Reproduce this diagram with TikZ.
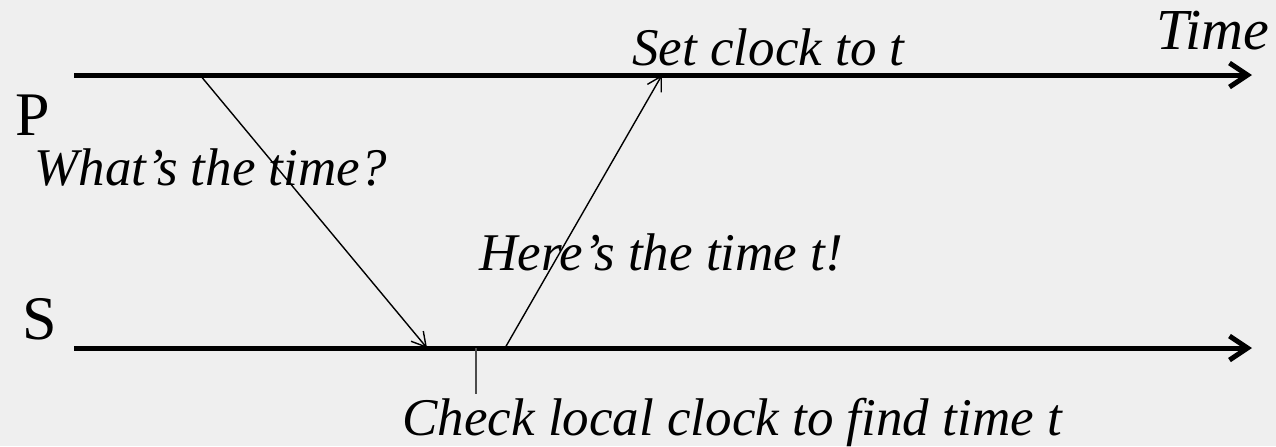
\documentclass[tikz,border=0pt]{standalone}
\usepackage{fontspec}
\setmainfont{Liberation Serif}
\usetikzlibrary{arrows.meta,positioning}
\definecolor{bg}{HTML}{EFEFEF}
\tikzset{
  timeline/.style={line width=2.5pt,-{Straight Barb[length=9pt,width=12pt,line width=2.5pt]}},
  msg/.style={line width=0.7pt,-{Straight Barb[length=7pt,width=8pt,line width=0.7pt]}},
  lbl/.style={font=\fontsize{26.5}{30}\selectfont\itshape,inner sep=0pt,anchor=base west},
  proc/.style={font=\fontsize{31}{36}\selectfont,inner sep=0pt,anchor=base west},
}

\begin{document}
\begin{tikzpicture}[x=0.5pt,y=-0.5pt]
  \fill[bg] (0,0) rectangle (1276,446);
  \useasboundingbox (0,0) rectangle (1276,446);
  % time lines
  \coordinate (p0) at (74,75);
  \coordinate (p1) at (1252,75);
  \coordinate (s0) at (74,348);
  \coordinate (s1) at (1252,348);
  \draw[timeline] (p0) -- (p1);
  \draw[timeline] (s0) -- (s1);
  % messages
  \coordinate (ask) at (200,75);
  \coordinate (got) at (427,348);
  \coordinate (reply) at (505,348);
  \coordinate (set) at (662,75);
  \draw[msg] (ask) -- (got);
  \draw[msg] (reply) -- (set);
  % local clock check
  \coordinate (chk0) at (476,348);
  \coordinate (chk1) at (476,394);
  \draw[line width=1pt,black!70] (chk0) -- (chk1);
  % labels
  \node[proc] (p) at (15,135) {P};
  \node[proc] (s) at (22,339) {S};
  \node[lbl,font=\fontsize{29}{34}\selectfont\itshape,anchor=base east] (time) at (1270,49) {Time};
  \node[lbl] (setlbl) at (632,65) {Set clock to t};
  \node[lbl] (what) at (34,185) {What’s the time?};
  \node[lbl] (here) at (479,270) {Here’s the time t!};
  \node[lbl] (check) at (402,435) {Check local clock to find time t};
\end{tikzpicture}
\end{document}
